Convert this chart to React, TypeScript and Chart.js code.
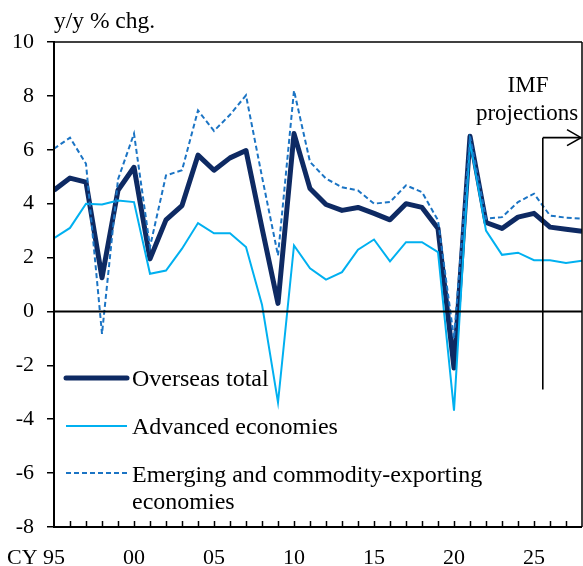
import React, { useEffect, useRef } from "react";
import { Chart, registerables } from "chart.js";

Chart.register(...registerables);

const years = [
  1995, 1996, 1997, 1998, 1999, 2000, 2001, 2002, 2003, 2004, 2005, 2006,
  2007, 2008, 2009, 2010, 2011, 2012, 2013, 2014, 2015, 2016, 2017, 2018,
  2019, 2020, 2021, 2022, 2023, 2024, 2025, 2026, 2027, 2028,
];

const overseasTotal = [
  4.5, 4.95, 4.8, 1.25, 4.5, 5.35, 1.95, 3.4, 3.93, 5.8, 5.24, 5.7, 5.97, 3.1,
  0.3, 6.6, 4.56, 3.97, 3.75, 3.86, 3.64, 3.4, 4.0, 3.86, 3.08, -2.1, 6.5, 3.3,
  3.08, 3.5, 3.64, 3.13, 3.05, 2.98,
];

const advancedEconomies = [
  2.72, 3.1, 4.0, 3.97, 4.12, 4.06, 1.4, 1.52, 2.33, 3.28, 2.9, 2.9, 2.39, 0.25,
  -3.38, 2.45, 1.6, 1.18, 1.46, 2.29, 2.67, 1.86, 2.57, 2.57, 2.2, -3.68, 6.3,
  3.0, 2.1, 2.18, 1.9, 1.9, 1.8, 1.88,
];

const emergingEconomies = [
  6.04, 6.45, 5.48, -0.83, 4.9, 6.6, 2.4, 5.05, 5.24, 7.46, 6.7, 7.3, 8.02, 5.0,
  2.08, 8.2, 5.55, 4.93, 4.61, 4.49, 4.0, 4.06, 4.68, 4.43, 3.38, -1.0, 6.5,
  3.44, 3.5, 4.06, 4.37, 3.56, 3.48, 3.44,
];

const seriesLabels = [
  "Overseas total",
  "Advanced economies",
  "Emerging and commodity-exporting",
];
const legendSecondLine = "economies";
const yAxisTitle = "y/y % chg.";
const xPrefix = "CY";
const projectionLabel = ["IMF", "projections"];
const projectionStartYear = 2025.55;
const projectionArrowTop = 6.45;
const projectionArrowBottom = -2.9;

const FONT = "'Liberation Serif', 'Times New Roman', serif";
const NAVY = "#0e2a63";
const LIGHT = "#00b0f0";
const MID = "#1b74c4";

const overlayPlugin = {
  id: "overlay",
  afterDatasetsDraw(chart: any) {
    const { ctx, chartArea: a, scales } = chart;
    const x = scales.x;
    const y = scales.y;
    const line = (x1: number, y1: number, x2: number, y2: number) => {
      ctx.beginPath();
      ctx.moveTo(x1, y1);
      ctx.lineTo(x2, y2);
      ctx.stroke();
    };
    ctx.save();
    ctx.strokeStyle = "#000";
    ctx.setLineDash([]);
    // frame
    ctx.lineWidth = 1.5;
    line(a.left, a.top, a.right, a.top);
    line(a.right, a.top, a.right, a.bottom);
    ctx.lineWidth = 2;
    line(a.left, a.top - 1, a.left, a.bottom + 1);
    line(a.left - 1, a.bottom, a.right, a.bottom);
    const y0 = y.getPixelForValue(0);
    line(a.left, y0, a.right, y0);
    // inward x ticks
    ctx.lineWidth = 1.5;
    for (let i = 1; i < years.length - 1; i++) {
      const px = Math.round(x.getPixelForValue(years[i])) + 0.5;
      line(px, a.bottom, px, a.bottom - 6);
    }
    // projections arrow
    const ax = x.getPixelForValue(projectionStartYear);
    const ayTop = y.getPixelForValue(projectionArrowTop);
    const ayBot = y.getPixelForValue(projectionArrowBottom);
    ctx.lineWidth = 1.6;
    line(ax, ayBot, ax, ayTop);
    line(ax, ayTop, a.right - 1, ayTop);
    ctx.beginPath();
    ctx.moveTo(a.right - 15, ayTop - 8);
    ctx.lineTo(a.right - 1, ayTop);
    ctx.lineTo(a.right - 15, ayTop + 8);
    ctx.stroke();

    // texts
    ctx.fillStyle = "#000";
    ctx.textBaseline = "alphabetic";
    ctx.textAlign = "center";
    ctx.font = `23px ${FONT}`;
    ctx.fillText(projectionLabel[0], 528, 92);
    ctx.fillText(projectionLabel[1], 527, 120);

    ctx.textAlign = "left";
    ctx.font = `23.5px ${FONT}`;
    ctx.fillText(yAxisTitle, a.left, 28);
    ctx.font = `22px ${FONT}`;
    ctx.fillText(xPrefix, 7, 564);

    // legend
    const ds = chart.data.datasets;
    const rows = [378, 426, 473];
    const baselines = [386, 434, 482];
    ctx.font = `24px ${FONT}`;
    for (let i = 0; i < 3; i++) {
      const d = ds[i];
      ctx.save();
      ctx.strokeStyle = d.borderColor;
      ctx.lineWidth = d.borderWidth;
      ctx.lineCap = i === 0 ? "round" : "butt";
      ctx.setLineDash(d.borderDash || []);
      line(66, rows[i], 127, rows[i]);
      ctx.restore();
      ctx.fillText(d.label, 132, baselines[i]);
    }
    ctx.fillText(legendSecondLine, 132, 509);
    ctx.restore();
  },
};

export default function App() {
  const ref = useRef<HTMLCanvasElement | null>(null);
  useEffect(() => {
    document.body.style.margin = "0";
    const canvas = ref.current;
    if (!canvas) return;
    const toPts = (arr: number[]) => arr.map((v, i) => ({ x: years[i], y: v }));
    const chart = new Chart(canvas, {
      type: "line",
      data: {
        datasets: [
          {
            label: seriesLabels[0],
            data: toPts(overseasTotal),
            borderColor: NAVY,
            borderWidth: 5,
            borderJoinStyle: "round",
            pointRadius: 0,
            tension: 0,
            order: 3,
          },
          {
            label: seriesLabels[1],
            data: toPts(advancedEconomies),
            borderColor: LIGHT,
            borderWidth: 2,
            pointRadius: 0,
            tension: 0,
            order: 2,
          },
          {
            label: seriesLabels[2],
            data: toPts(emergingEconomies),
            borderColor: MID,
            borderWidth: 2,
            borderDash: [5, 3],
            pointRadius: 0,
            tension: 0,
            order: 1,
          },
        ],
      },
      options: {
        animation: false,
        responsive: false,
        layout: { padding: { top: 42, right: 1, left: 0, bottom: 0 } },
        plugins: {
          legend: { display: false },
          tooltip: { enabled: false },
        },
        scales: {
          x: {
            type: "linear",
            min: years[0],
            max: years[years.length - 1],
            afterFit: (s: any) => {
              s.height = 39;
              s.paddingLeft = 0;
              s.paddingRight = 0;
            },
            grid: { display: false, drawTicks: false },
            border: { display: false },
            ticks: {
              stepSize: 1,
              autoSkip: false,
              maxRotation: 0,
              padding: 18,
              color: "#000",
              font: { family: FONT, size: 22 },
              callback: (v: any) =>
                Number(v) % 5 === 0 ? String(Number(v) % 100).padStart(2, "0") : "",
            },
          },
          y: {
            min: -8,
            max: 10,
            afterFit: (s: any) => {
              s.width = 54;
              s.paddingTop = 0;
              s.paddingBottom = 0;
            },
            grid: {
              display: true,
              drawOnChartArea: false,
              drawTicks: true,
              tickLength: 7,
              color: "#000",
              lineWidth: 1.5,
            },
            border: { display: false },
            ticks: {
              stepSize: 2,
              padding: 13,
              color: "#000",
              font: { family: FONT, size: 22 },
            },
          },
        },
      },
      plugins: [overlayPlugin],
    } as any);
    return () => chart.destroy();
  }, []);
  return (
    <div style={{ width: 583, height: 566 }}>
      <canvas ref={ref} width={583} height={566} style={{ display: "block" }} />
    </div>
  );
}
